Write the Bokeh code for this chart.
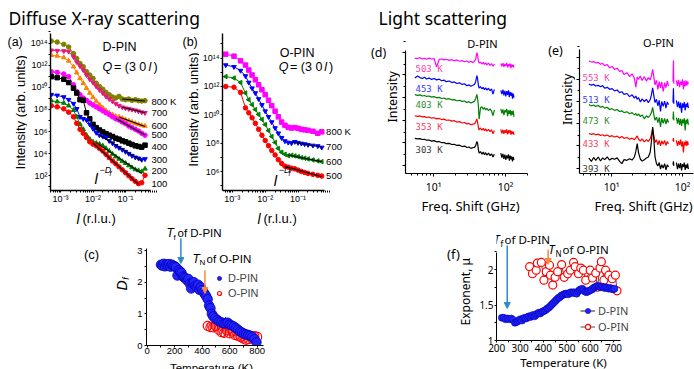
import numpy as np
from bokeh.plotting import figure
from bokeh.layouts import row, column
from bokeh.models import (Range1d, Label, Arrow, NormalHead, FixedTicker,
                          CustomJSTickFormatter, Legend, LegendItem)
from bokeh.embed import file_html
from bokeh.resources import INLINE

# ================= DATA =================
# (a) D-PIN, diffuse X-ray scattering along Q=(3 0 l): l (r.l.u.) and log10(intensity)
a_l = [0.00052, 0.00079, 0.00126, 0.00178, 0.00251, 0.00316, 0.00398, 0.00501,
       0.00631, 0.00794, 0.0100, 0.0126, 0.0158, 0.0200, 0.0251, 0.0316, 0.0398,
       0.0501, 0.0631, 0.0794, 0.100, 0.126, 0.158, 0.200, 0.251, 0.316, 0.398]
a_temps = ["800 K", "700", "600", "500", "400", "300", "200", "100"]
a_log_800 = [14.18, 14.09, 13.88, 13.64, 13.05, 12.60, 12.15, 11.86, 11.41, 11.11, 10.81, 10.37, 10.07, 9.83,
             9.54, 9.33, 9.12, 9.03, 9.18, 8.94, 8.88, 8.94, 8.82, 8.88, 8.79, 8.76, 8.79]
a_log_700 = [13.34, 13.31, 13.28, 13.23, 12.75, 12.30, 11.92, 11.56, 11.11, 10.73, 10.43, 10.07, 9.77, 9.48,
             9.18, 8.94, 8.73, 8.52, 8.34, 8.20, 8.11, 8.05, 7.99, 7.93, 7.84, 7.75, 7.69]
a_log_600 = [12.90, 12.84, 12.69, 12.39, 11.86, 11.32, 10.81, 10.37, 9.92, 9.48, 9.09, 8.73, 8.43, 8.14,
             7.90, 7.69, 7.54, 7.39, 7.33, 7.21, 7.09, 6.98, 6.86, 6.74, 6.65, 6.56, 6.50]
a_log_500 = [11.41, 11.35, 11.20, 10.96, 10.22, 9.62, 9.33, 9.03, 8.82, 8.58, 8.40, 8.23, 8.05, 7.87,
             7.69, 7.54, 7.33, 7.15, 7.04, 6.86, 6.71, 6.50, 6.35, 6.20, 6.05, 5.84, 5.67]
a_log_400 = [10.96, 10.87, 10.73, 10.43, 9.92, 9.48, 8.88, 8.82, 7.69, 7.15, 6.65, 6.35, 6.14, 5.96,
             5.81, 5.67, 5.55, 5.40, 5.31, 5.16, 5.07, 4.95, 4.83, 4.71, 4.65, 4.59, 4.77]
a_log_300 = [9.33, 9.27, 9.12, 8.88, 8.52, 8.05, 7.33, 7.15, 7.04, 6.65, 6.26, 5.90, 5.67, 5.55,
             5.46, 5.16, 4.95, 4.71, 4.54, 4.36, 4.18, 4.00, 3.82, 3.67, 3.58, 3.46, 3.52]
a_log_200 = [8.79, 8.70, 8.58, 8.34, 7.93, 7.33, 6.65, 6.20, 5.67, 5.31, 5.07, 4.95, 4.86, 4.71,
             4.48, 4.24, 3.97, 3.73, 3.52, 3.31, 3.14, 2.93, 2.75, 2.57, 2.48, 2.39, 2.63]
a_log_100 = [8.34, 8.23, 8.05, 7.75, 7.33, 6.74, 6.20, 5.84, 5.46, 5.07, 4.86, 4.71, 4.48, 4.24,
             3.94, 3.64, 3.34, 3.08, 2.81, 2.54, 2.27, 2.00, 1.74, 1.50, 1.29, 1.38, 2.04]
a_fit_idx = [(19, 26), (19, 26), (18, 26), (17, 26), (18, 25), (12, 25), (11, 25), (10, 24)]

# (b) O-PIN
b_l = [0.00063, 0.00112, 0.00178, 0.00251, 0.00316, 0.00398, 0.00501, 0.00631, 0.00794,
       0.0100, 0.0126, 0.0158, 0.0200, 0.0251, 0.0316, 0.0398, 0.0501, 0.0631, 0.0794,
       0.100, 0.126, 0.158, 0.200, 0.282, 0.398, 0.525]
b_temps = ["800 K", "700", "600", "500"]
b_log_800 = [14.28, 14.14, 13.81, 13.51, 13.16, 12.81, 12.47, 12.12, 11.77, 11.42, 11.03, 10.65, 10.26,
             9.86, 9.49, 9.26, 9.12, 9.07, 9.10, 9.05, 8.98, 8.94, 8.91, 8.84, 8.70, 8.80]
b_log_700 = [13.51, 13.39, 13.12, 12.74, 12.28, 11.88, 11.54, 11.12, 10.70, 10.26, 9.86, 9.49, 9.07,
             8.70, 8.38, 8.15, 8.05, 8.01, 8.10, 8.03, 7.98, 7.94, 7.89, 7.84, 7.80, 7.70]
b_log_600 = [12.70, 12.60, 12.28, 11.54, 11.07, 10.72, 10.37, 10.03, 9.68, 9.31, 8.89, 8.47, 8.05,
             7.63, 7.36, 7.22, 7.12, 7.15, 7.10, 7.05, 6.98, 6.94, 6.89, 6.82, 6.75, 6.70]
b_log_500 = [12.00, 11.95, 11.58, 10.49, 10.14, 9.79, 9.40, 8.98, 8.56, 8.19, 7.82, 7.49, 7.17,
             6.84, 6.57, 6.38, 6.31, 6.24, 6.19, 6.10, 6.01, 5.94, 5.87, 5.80, 5.73, 5.68]
b_fit_idx = [None, (17, 25), (16, 25), (15, 25)]

# (d) D-PIN light scattering: frequency shift (GHz) and log10(intensity), nan = gap
nan = float("nan")
d_freq = [5.5, 6, 6.5, 7, 7.5, 8, 8.7, 9.4, 10.2, 11, 12, 13, 14, 15, 16.5, 18, 19.5, 21, 23, 25,
          27, 29, 31, 33, 35, 37, 38.5, 40, 41, 42, 43, 45, 47, 49, 51, 53, 55, 58, 61, 64, 67, 70,
          nan, 86, 89, 92, 95, 98, 101, 104, 107, 110, 113, 116, 119, 122, 125, 128, 131]
d_temps = ["503 K", "453 K", "403 K", "353 K", "303 K"]
d_log_503 = [5.74, 5.72, 5.76, 5.70, 5.73, 5.69, 5.74, 5.70, 5.72, 5.35, 5.68, 5.70, 5.66, 5.69, 5.64,
             5.67, 5.62, 5.66, 5.60, 5.63, 5.58, 5.61, 5.56, 5.59, 5.55, 5.60, 5.68, 5.98, 5.85, 5.62,
             5.52, 5.56, 5.48, 5.55, 5.46, 5.53, 5.44, 5.52, 5.42, 5.50, 5.38, 5.48, nan,
             5.50, 5.38, 5.52, 5.35, 5.48, 5.40, 5.53, 5.33, 5.47, 5.38, 5.50, 5.30, 5.46, 5.36, 5.44, 5.32]
d_log_453 = [4.86, 4.95, 4.88, 4.84, 4.90, 4.82, 4.86, 4.80, 4.84, 4.78, 4.81, 4.74, 4.77, 4.70, 4.73,
             4.66, 4.69, 4.62, 4.65, 4.58, 4.61, 4.52, 4.56, 4.50, 4.54, 4.58, 4.70, 4.97, 4.82, 4.55,
             4.42, 4.48, 4.38, 4.45, 4.35, 4.43, 4.33, 4.41, 4.30, 4.38, 4.15, 4.36, nan,
             4.32, 4.15, 4.35, 4.10, 4.30, 4.05, 4.28, 4.12, 4.32, 4.02, 4.25, 4.08, 4.22, 3.95, 4.18, 4.00]
d_log_403 = [4.13, 4.10, 4.12, 4.07, 4.09, 4.05, 4.07, 4.02, 4.04, 3.99, 4.01, 3.96, 3.98, 3.93, 3.95,
             3.90, 3.91, 3.86, 3.88, 3.83, 3.85, 3.78, 3.82, 3.76, 3.80, 3.84, 3.95, 4.14, 3.95, 3.62,
             3.05, 3.55, 3.60, 3.48, 3.56, 3.45, 3.53, 3.42, 3.50, 3.40, 3.20, 3.46, nan,
             3.50, 3.30, 3.48, 3.22, 3.45, 3.35, 3.50, 3.18, 3.44, 3.28, 3.46, 3.20, 3.40, 3.25, 3.42, 3.15]
d_log_353 = [3.20, 3.17, 3.19, 3.15, 3.16, 3.12, 3.14, 3.09, 3.11, 3.06, 3.08, 3.03, 3.05, 3.00, 3.01,
             2.96, 2.98, 2.92, 2.94, 2.88, 2.90, 2.84, 2.86, 2.80, 2.83, 2.84, 2.92, 3.06, 2.90, 2.70,
             2.58, 2.66, 2.56, 2.64, 2.54, 2.62, 2.52, 2.60, 2.50, 2.58, 2.40, 2.55, nan,
             2.60, 2.42, 2.58, 2.40, 2.56, 2.45, 2.60, 2.38, 2.55, 2.44, 2.57, 2.36, 2.52, 2.40, 2.50, 2.35]
d_log_303 = [2.20, 2.18, 2.19, 2.15, 2.16, 2.12, 2.13, 2.08, 2.10, 2.05, 2.06, 2.01, 2.02, 1.97, 1.98,
             1.93, 1.94, 1.89, 1.90, 1.84, 1.86, 1.80, 1.82, 1.76, 1.79, 1.80, 1.88, 2.06, 1.98, 1.70,
             1.55, 1.62, 1.50, 1.60, 1.48, 1.57, 1.46, 1.55, 1.44, 1.52, 1.38, 1.50, nan,
             1.55, 1.35, 1.52, 1.30, 1.48, 1.25, 1.45, 1.32, 1.50, 1.22, 1.44, 1.28, 1.40, 1.18, 1.38, 1.25]

# (e) O-PIN light scattering
e_freq = [4.8, 5.2, 5.6, 6, 6.5, 7, 7.5, 8, 8.7, 9.4, 10.2, 11, 12, 13, 14, 15, 16.5, 18, 19.5, 21,
          22, 23, 24, 25.5, 27, 29, 31, 33, 35, 36.5, 38, 39.5, 41, 43, 45, 47, 49, 51, 53.5, 56,
          58.5, 61, 63.5, nan, 73.5, 74.5, 75.5, nan, 82, 85, 88, 91, 94, 97, 100, 103, 106, 109,
          112, 115, 118, 121]
e_temps = ["553 K", "513 K", "473 K", "433 K", "393 K"]
e_log_553 = [5.82, 5.78, 5.80, 5.74, 5.76, 5.68, 5.72, 5.62, 5.66, 5.52, 5.58, 5.45, 5.50, 5.36, 5.40,
             5.22, 5.30, 5.12, 5.25, 5.05, 4.65, 5.10, 5.00, 5.15, 4.95, 5.12, 4.92, 5.08, 4.98, 5.15,
             5.45, 5.10, 4.75, 4.95, 4.55, 4.90, 4.60, 4.88, 4.45, 4.85, 4.62, 4.92, 4.70, nan,
             4.90, 5.85, 4.80, nan, 4.95, 4.70, 4.98, 4.65, 4.90, 4.75, 5.00, 4.55, 4.92, 4.68,
             4.95, 4.72, 4.90, 4.78]
e_log_513 = [4.79, 4.74, 4.77, 4.70, 4.73, 4.66, 4.72, 4.60, 4.64, 4.55, 4.58, 4.48, 4.52, 4.40, 4.44,
             4.32, 4.36, 4.22, 4.30, 4.15, 4.25, 4.10, 4.18, 3.98, 4.12, 4.00, 4.10, 3.95, 4.08, 4.30,
             4.62, 4.25, 3.95, 4.10, 3.80, 4.05, 3.55, 4.00, 3.78, 4.02, 3.70, 3.98, 3.85, nan,
             3.95, 4.60, 3.90, nan, 4.05, 3.75, 4.00, 3.70, 3.95, 3.50, 3.92, 3.72, 3.98, 3.60,
             3.90, 3.75, 3.95, 3.70]
e_log_473 = [3.87, 3.80, 3.84, 3.78, 3.82, 3.74, 3.78, 3.70, 3.74, 3.64, 3.68, 3.60, 3.64, 3.55, 3.58,
             3.50, 3.54, 3.45, 3.50, 3.40, 3.46, 3.36, 3.44, 3.32, 3.40, 3.22, 3.36, 3.28, 3.38, 3.50,
             3.74, 3.40, 3.15, 3.30, 3.05, 3.28, 2.85, 3.25, 3.02, 3.24, 2.98, 3.22, 3.05, nan,
             3.20, 3.55, 3.15, nan, 3.28, 3.00, 3.25, 2.95, 3.22, 2.90, 3.20, 3.02, 3.24, 2.70,
             3.18, 3.00, 3.22, 2.95]
e_log_433 = [2.56, 2.52, 2.55, 2.50, 2.53, 2.47, 2.50, 2.45, 2.49, 2.42, 2.46, 2.40, 2.44, 2.36, 2.42,
             2.34, 2.38, 2.30, 2.35, 2.28, 2.36, 2.45, 2.30, 2.22, 2.32, 2.18, 2.28, 2.20, 2.32, 2.50,
             2.78, 2.45, 2.15, 2.28, 2.05, 2.25, 2.00, 2.22, 2.08, 2.25, 2.02, 2.20, 2.10, nan,
             2.22, 2.35, 2.18, nan, 2.25, 2.00, 2.22, 2.05, 2.28, 1.98, 2.20, 1.70, 2.18, 2.02,
             2.24, 2.00, 2.20, 2.05]
e_log_393 = [1.45, 1.30, 1.48, 1.35, 1.50, 1.32, 1.46, 1.38, 1.50, 1.36, 1.44, 1.40, 1.46, 1.30, 1.20,
             1.38, 1.35, 1.42, 1.36, 1.50, 1.75, 2.10, 1.70, 1.40, 1.32, 1.38, 1.45, 1.50, 1.70, 2.20,
             2.85, 2.30, 1.50, 1.20, 1.10, 1.25, 0.95, 1.15, 1.00, 1.20, 0.92, 1.15, 1.05, nan,
             1.15, 1.30, 1.10, nan, 1.25, 0.95, 1.20, 1.00, 1.22, 0.90, 1.18, 1.05, 1.25, 0.92,
             1.15, 1.00, 1.20, 0.95]

# (c) fractal dimension D_f vs temperature
c_T_d = [100, 110, 120, 130, 140, 150, 160, 170, 180, 190, 200, 210, 220, 230, 240, 250, 260, 270, 280,
         290, 300, 310, 320, 330, 340, 350, 360, 370, 380, 390, 400, 410, 420, 430, 440, 450, 460, 470,
         480, 495, 510, 525, 540, 555, 570, 585, 600, 615, 630, 645, 660, 675, 690, 705, 720, 735, 750,
         765, 780, 795]
c_Df_d = [2.55, 2.52, 2.58, 2.50, 2.56, 2.53, 2.57, 2.49, 2.55, 2.51, 2.50, 2.47, 2.21, 2.38, 2.33, 2.29,
          2.18, 2.15, 2.12, 2.06, 2.10, 1.95, 1.80, 1.97, 2.00, 1.88, 1.84, 1.92, 1.76, 1.84, 1.75, 1.68,
          1.62, 1.55, 1.46, 1.26, 1.18, 1.00, 0.92, 0.86, 0.80, 0.76, 0.73, 0.70, 0.70, 0.72, 0.66, 0.63,
          0.60, 0.55, 0.50, 0.44, 0.41, 0.37, 0.35, 0.33, 0.31, 0.27, 0.20, 0.10]
c_err_d = [0.06, 0.05, 0.08, 0.10, 0.12, 0.08, 0.06, 0.10, 0.05, 0.06, 0.05, 0.08, 0.06, 0.05, 0.06,
           0.04, 0.05, 0.06, 0.05, 0.04, 0.05, 0.06, 0.05, 0.04, 0.06, 0.05, 0.04, 0.05, 0.06, 0.05,
           0.04, 0.05, 0.04, 0.05, 0.04, 0.05, 0.04, 0.05, 0.06, 0.08, 0.06, 0.10, 0.15, 0.12, 0.20,
           0.08, 0.06, 0.08, 0.10, 0.06, 0.05, 0.08, 0.06, 0.10, 0.12, 0.15, 0.10, 0.08, 0.06, 0.05]
c_T_o = [440, 460, 480, 500, 520, 540, 560, 580, 600, 620, 640, 660, 680, 700, 720, 740, 760, 780, 800]
c_Df_o = [0.62, 0.58, 0.57, 0.62, 0.50, 0.42, 0.40, 0.48, 0.38, 0.44, 0.33, 0.30, 0.26, 0.22, 0.18,
          0.20, 0.24, 0.30, 0.27]
c_err_o = [0.08, 0.10, 0.09, 0.12, 0.10, 0.12, 0.15, 0.10, 0.14, 0.12, 0.10, 0.12, 0.14, 0.10, 0.12,
           0.15, 0.12, 0.10, 0.12]

# (f) exponent mu vs temperature
f_T_d = [222, 230, 238, 246, 254, 262, 270, 278, 284, 290, 296, 302, 308, 314, 320, 326, 332, 338, 344,
         350, 356, 362, 368, 374, 380, 386, 392, 398, 404, 410, 416, 422, 428, 434, 440, 446, 452, 458,
         464, 470, 476, 482, 488, 494, 500, 506, 512, 518, 524, 530, 536, 542, 548, 554, 560, 566, 572,
         578, 584, 590, 596, 602, 608, 614, 620, 626, 632, 638, 644, 650, 656, 662, 668, 674, 680, 686,
         692, 698, 704]
f_mu_d = [1.32, 1.32, 1.30, 1.31, 1.30, 1.31, 1.29, 1.25, 1.26, 1.27, 1.29, 1.30, 1.28, 1.31, 1.32, 1.31,
          1.33, 1.34, 1.33, 1.35, 1.36, 1.34, 1.36, 1.38, 1.39, 1.38, 1.40, 1.41, 1.42, 1.43, 1.45, 1.46,
          1.48, 1.50, 1.52, 1.54, 1.56, 1.58, 1.60, 1.61, 1.63, 1.64, 1.65, 1.66, 1.66, 1.65, 1.67, 1.68,
          1.67, 1.68, 1.67, 1.66, 1.69, 1.71, 1.72, 1.73, 1.71, 1.69, 1.68, 1.69, 1.70, 1.71, 1.72, 1.74,
          1.75, 1.76, 1.77, 1.76, 1.75, 1.76, 1.75, 1.74, 1.75, 1.74, 1.73, 1.74, 1.73, 1.72, 1.73]
f_T_o = [341, 353, 369, 374, 391, 402, 412, 426, 430, 440, 450, 461, 478, 489, 504, 515, 529, 536, 550,
         560, 571, 581, 600, 610, 624, 631, 642, 648, 659, 666, 680, 694, 708, 715]
f_mu_o = [2.04, 1.94, 1.99, 2.09, 2.10, 1.85, 1.97, 2.06, 1.92, 1.78, 1.89, 1.97, 2.07, 1.89, 1.94, 1.99,
          2.10, 2.04, 1.94, 2.02, 1.99, 1.85, 1.99, 1.88, 1.95, 1.75, 2.02, 2.11, 1.85, 1.99, 1.92, 1.87,
          1.92, 1.70]

T_f = 245   # freezing temperature of D-PIN (K)
T_N = 420   # Neel temperature of O-PIN (K)

# ================= HELPERS =================
LS = "Liberation Sans"
NS = "Noto Sans"
MONO = "DejaVu Sans Mono"

SUP_JS = """
const e = Math.round(Math.log10(tick));
const m = {"0":"\u2070","1":"\u00b9","2":"\u00b2","3":"\u00b3","4":"\u2074","5":"\u2075",
           "6":"\u2076","7":"\u2077","8":"\u2078","9":"\u2079","-":"\u207b"};
let s = "";
for (const c of String(e)) { s += m[c]; }
return "10" + s;
"""


def pow_fmt():
    return CustomJSTickFormatter(code=SUP_JS)


class Geo:
    """canvas box (page px), frame box (page px), data ranges at the frame edges."""
    def __init__(self, cx, cy, cw, ch, fl, ft, fr, fb, xr, yr, xlog=False, ylog=False):
        self.cx, self.cy, self.cw, self.ch = cx, cy, cw, ch
        self.fl, self.ft, self.fr, self.fb = fl, ft, fr, fb
        self.xr, self.yr, self.xlog, self.ylog = xr, yr, xlog, ylog

    def X(self, px):
        t = (px - self.fl) / (self.fr - self.fl)
        if self.xlog:
            a, b = np.log10(self.xr[0]), np.log10(self.xr[1])
            return float(10 ** (a + t * (b - a)))
        return self.xr[0] + t * (self.xr[1] - self.xr[0])

    def Y(self, py):
        t = (self.fb - py) / (self.fb - self.ft)
        if self.ylog:
            a, b = np.log10(self.yr[0]), np.log10(self.yr[1])
            return float(10 ** (a + t * (b - a)))
        return self.yr[0] + t * (self.yr[1] - self.yr[0])

    def fig(self, axes=True):
        kw = {}
        if not axes:
            kw = dict(x_axis_location=None, y_axis_location=None)
        p = figure(width=self.cw, height=self.ch, title=None,
                   x_range=Range1d(*self.xr), y_range=Range1d(*self.yr),
                   x_axis_type="log" if self.xlog else "linear",
                   y_axis_type="log" if self.ylog else "linear",
                   output_backend="svg", toolbar_location=None,
                   min_border_left=self.fl - self.cx,
                   min_border_right=self.cx + self.cw - self.fr,
                   min_border_top=self.ft - self.cy,
                   min_border_bottom=self.cy + self.ch - self.fb, **kw)
        p.outline_line_color = None
        p.grid.visible = False
        p.background_fill_color = "white"
        p.border_fill_color = "white"
        return p


def strip(x0, y0, w, h):
    g = Geo(x0, y0, w, h, x0, y0, x0 + w, y0 + h, (x0, x0 + w), (y0 + h, y0))
    return g, g.fig(axes=False)


def txt(p, g, px, py, s, size, font, color="black", style="normal", align="left",
        baseline="middle", angle=0.0):
    p.add_layout(Label(x=g.X(px), y=g.Y(py), text=s, text_font=font,
                       text_font_size=f"{size}px", text_font_style=style, text_color=color,
                       text_align=align, text_baseline=baseline, angle=angle))


def style_axes(p, font, size, lw=1.0, tick_out=3, tick_in=0, minor_out=2, minor_in=0,
               standoff=2):
    for ax in (p.xaxis[0], p.yaxis[0]):
        ax.axis_line_width = lw
        ax.axis_line_color = "black"
        ax.major_tick_line_color = "black"
        ax.minor_tick_line_color = "black"
        ax.major_tick_out = tick_out
        ax.major_tick_in = tick_in
        ax.minor_tick_out = minor_out
        ax.minor_tick_in = minor_in
        ax.major_label_text_font = font
        ax.major_label_text_font_size = f"{size}px"
        ax.major_label_standoff = standoff
        ax.major_label_text_color = "black"


def log_minor(decades):
    return [k * 10.0 ** e for e in decades for k in range(2, 10)]


# ================= TITLE ROW =================
gT, pT = strip(0, 0, 694, 30)
txt(pT, gT, 8, 17, "Diffuse X-ray scattering", 17.5, NS)
txt(pT, gT, 378, 17, "Light scattering", 17.5, NS)

# ================= (a) =================
gA = Geo(27, 30, 153, 176, 50, 30, 180, 192,
         (10 ** -3.308, 10 ** 0.692), (10 ** 0.670, 10 ** 15.134), True, True)
pA = gA.fig()
style_axes(pA, LS, 9, lw=1.4, tick_out=2, standoff=1)
pA.xaxis.ticker = FixedTicker(ticks=[1e-3, 1e-2, 1e-1], minor_ticks=log_minor([-4, -3, -2, -1]))
pA.yaxis.ticker = FixedTicker(ticks=[10.0 ** e for e in range(2, 15, 2)],
                              minor_ticks=[10.0 ** e for e in range(1, 16, 2)])
pA.xaxis.formatter = pow_fmt()
pA.yaxis.formatter = pow_fmt()
pA.xaxis.bounds = (gA.X(50), gA.X(150))
pA.yaxis.bounds = (gA.Y(192), gA.Y(33))

a_series = [(a_log_800, "#808000", "circle", 0), (a_log_700, "#e8177e", "inverted_triangle", 0),
            (a_log_600, "#ff8000", "triangle", 0), (a_log_500, "#ff00ff", "circle", 0),
            (a_log_400, "#000000", "square", 0), (a_log_300, "#0000ff", "inverted_triangle", 0),
            (a_log_200, "#008000", "triangle", 0), (a_log_100, "#ff0000", "circle", 0)]
for (vals, col, mk, ang), lab, fit in zip(a_series, a_temps, a_fit_idx):
    y = 10 ** np.array(vals)
    pA.line(a_l, y, line_color=col, line_width=1)
    pA.scatter(a_l, y, marker=mk, size=4.5, fill_color=col, line_color=col, angle=ang)
    i0, i1 = fit
    lx = np.log10(np.array(a_l[i0:i1 + 1]))
    k, b0 = np.polyfit(lx, np.array(vals[i0:i1 + 1]), 1)
    xs = [a_l[i0], a_l[i1]]
    pA.line(xs, [10 ** (k * np.log10(v) + b0) for v in xs], line_color="black", line_width=1.1)
    pA.add_layout(Label(x=gA.X(151), y=float(10 ** min(vals[-3:])), text=lab, text_font=LS,
                        text_font_size="9.5px", text_baseline="middle", text_color="black"))

txt(pA, gA, 102, 47, "D-PIN", 12.5, LS)
txt(pA, gA, 102, 67, "Q", 12.5, LS, style="italic")
txt(pA, gA, 113.5, 67, "= (3 0", 12.5, LS)
txt(pA, gA, 148, 67, "l", 12.5, LS, style="italic")
txt(pA, gA, 153, 67, ")", 12.5, LS)
txt(pA, gA, 94, 180, "l", 15, LS, style="italic")
txt(pA, gA, 99, 171, "\u2212D", 9, LS, style="italic")
txt(pA, gA, 109, 175, "f", 7, LS, style="italic")

gsA, psA = strip(0, 30, 27, 176)
txt(psA, gsA, 7, 43, "(a)", 12.5, LS)
txt(psA, gsA, 19.5, 120, "Intensity (arb. units)", 13, LS, align="center", angle=np.pi / 2)

# ================= (b) =================
gB = Geo(199, 30, 171, 176, 220, 30, 370, 192,
         (10 ** -3.300, 10 ** 1.204), (10 ** 4.662, 10 ** 15.951), True, True)
pB = gB.fig()
style_axes(pB, LS, 9, lw=1.4, tick_out=2, standoff=1)
pB.xaxis.ticker = FixedTicker(ticks=[1e-3, 1e-2, 1e-1], minor_ticks=log_minor([-4, -3, -2, -1]))
pB.yaxis.ticker = FixedTicker(ticks=[10.0 ** e for e in range(6, 15, 2)],
                              minor_ticks=[10.0 ** e for e in range(5, 16, 2)])
pB.xaxis.formatter = pow_fmt()
pB.yaxis.formatter = pow_fmt()
pB.xaxis.bounds = (gB.X(220), gB.X(323))
pB.yaxis.bounds = (gB.Y(192), gB.Y(33))
b_series = [(b_log_800, "#ff00ff", "square", 0), (b_log_700, "#0000ff", "inverted_triangle", 0),
            (b_log_600, "#008000", "triangle", np.pi / 2), (b_log_500, "#ff0000", "circle", 0)]
for (vals, col, mk, ang), lab, fit in zip(b_series, b_temps, b_fit_idx):
    y = 10 ** np.array(vals)
    pB.line(b_l, y, line_color=col, line_width=1)
    pB.scatter(b_l, y, marker=mk, size=4.5, fill_color=col, line_color=col, angle=ang)
    if fit is not None:
        i0, i1 = fit
        lx = np.log10(np.array(b_l[i0:i1 + 1]))
        k, b0 = np.polyfit(lx, np.array(vals[i0:i1 + 1]), 1)
        xs = [b_l[i0], b_l[i1]]
        pB.line(xs, [10 ** (k * np.log10(v) + b0) for v in xs], line_color="black", line_width=1.1)
    pB.add_layout(Label(x=gB.X(325), y=float(10 ** vals[-1]), text=lab, text_font=LS,
                        text_font_size="9.5px", text_baseline="middle", text_color="black"))

txt(pB, gB, 278, 53, "O-PIN", 12.5, LS)
txt(pB, gB, 277, 67, "Q", 12.5, LS, style="italic")
txt(pB, gB, 288.5, 67, "= (3 0", 12.5, LS)
txt(pB, gB, 323, 67, "l", 12.5, LS, style="italic")
txt(pB, gB, 328, 67, ")", 12.5, LS)
txt(pB, gB, 272, 182, "l", 15, LS, style="italic")
txt(pB, gB, 277, 171, "\u2212D", 9, LS, style="italic")
txt(pB, gB, 287, 175, "f", 7, LS, style="italic")

gsB, psB = strip(180, 30, 19, 176)
txt(psB, gsB, 182, 43, "(b)", 12.5, LS)
txt(psB, gsB, 192.5, 117, "Intensity (arb. units)", 13, LS, align="center", angle=np.pi / 2)

# x-label strip under (a) and (b)
gxAB, pxAB = strip(0, 206, 370, 20)
txt(pxAB, gxAB, 76, 218, "l", 14, LS, style="italic")
txt(pxAB, gxAB, 82, 218, "(r.l.u.)", 13, LS)
txt(pxAB, gxAB, 257, 218, "l", 14, LS, style="italic")
txt(pxAB, gxAB, 263, 218, "(r.l.u.)", 13, LS)

# ================= (d) =================
spec_cols = ["#ff00ff", "#0000ff", "#008000", "#ff0000", "#000000"]
lab_cols = ["#ff3fa8", "#3a3aff", "#2f8f2f", "#ff4060", "#3a3a3a"]

gD = Geo(400, 30, 130, 166, 405, 30, 530, 175,
         (10 ** 0.611, 10 ** 2.347), (10 ** 0.652, 10 ** 6.957), True, True)
pD = gD.fig()
style_axes(pD, NS, 10.5, lw=1.2, tick_out=3, standoff=3, minor_out=2)
pD.xaxis.ticker = FixedTicker(ticks=[10, 100], minor_ticks=log_minor([0, 1, 2]))
pD.yaxis.ticker = FixedTicker(ticks=[10.0 ** e for e in range(1, 7)],
                              minor_ticks=[3 * 10.0 ** e for e in range(0, 7)])
pD.xaxis.formatter = pow_fmt()
pD.yaxis.formatter = CustomJSTickFormatter(code="return '';")
pD.xaxis.bounds = (gD.X(405), gD.X(527))
pD.yaxis.bounds = (gD.Y(175), gD.Y(50))
d_label_py = [69, 89, 106, 128, 151]
for vals, col, lc, lab, py in zip([d_log_503, d_log_453, d_log_403, d_log_353, d_log_303],
                                  spec_cols, lab_cols, d_temps, d_label_py):
    pD.line(d_freq, 10 ** np.array(vals), line_color=col, line_width=1.2)
    txt(pD, gD, 415, py, lab, 9, MONO, color=lc)
txt(pD, gD, 482, 43, "D-PIN", 11, NS, align="center")

gsD, psD = strip(370, 30, 30, 166)
txt(psD, gsD, 370.5, 55, "(d)", 12.5, NS)
txt(psD, gsD, 392, 107, "Intensity", 12.5, NS, align="center", angle=np.pi / 2)

# ================= (e) =================
gE = Geo(575, 30, 119, 166, 579, 30, 694, 175,
         (10 ** 0.549, 10 ** 2.169), (10 ** 0.756, 10 ** 7.2), True, True)
pE = gE.fig()
style_axes(pE, NS, 10.5, lw=1.2, tick_out=3, standoff=3, minor_out=2)
pE.xaxis.ticker = FixedTicker(ticks=[10, 100], minor_ticks=log_minor([0, 1, 2]))
pE.yaxis.ticker = FixedTicker(ticks=[10.0 ** e for e in range(1, 7)],
                              minor_ticks=[3 * 10.0 ** e for e in range(0, 7)])
pE.xaxis.formatter = pow_fmt()
pE.yaxis.formatter = CustomJSTickFormatter(code="return '';")
pE.xaxis.bounds = (gE.X(579), gE.X(693))
pE.yaxis.bounds = (gE.Y(175), gE.Y(49))
e_label_py = [78, 100, 122, 145, 170]
for vals, col, lc, lab, py in zip([e_log_553, e_log_513, e_log_473, e_log_433, e_log_393],
                                  spec_cols, lab_cols, e_temps, e_label_py):
    pE.line(e_freq, 10 ** np.array(vals), line_color=col, line_width=1.2)
    txt(pE, gE, 582, py, lab, 9, MONO, color=lc)
txt(pE, gE, 658, 42, "O-PIN", 11, NS, align="center")

gsE, psE = strip(530, 30, 45, 166)
txt(psE, gsE, 555, 53, "(e)", 12.5, NS, align="center")
txt(psE, gsE, 567, 110, "Intensity", 12.5, NS, align="center", angle=np.pi / 2)

gxDE, pxDE = strip(370, 196, 324, 26)
txt(pxDE, gxDE, 470, 205, "Freq. Shift (GHz)", 13, NS, align="center")
txt(pxDE, gxDE, 643, 205, "Freq. Shift (GHz)", 13, NS, align="center")

# ================= (c) =================
BLUE_F, BLUE_L = "#2424ff", "#0000b4"
gC = Geo(131, 226, 239, 133, 146, 226, 263, 345, (-5.1, 846.0), (0.0, 3.758))
pC = gC.fig()
style_axes(pC, LS, 9.5, lw=1.0, tick_out=2, standoff=0, minor_out=2)
pC.xaxis.ticker = FixedTicker(ticks=[0, 200, 400, 600, 800], minor_ticks=[100, 300, 500, 700])
pC.yaxis.ticker = FixedTicker(ticks=[0, 1, 2, 3], minor_ticks=[0.5, 1.5, 2.5])
pC.yaxis.major_label_standoff = 2
pC.yaxis.bounds = (0.0, gC.Y(248))
cd = np.array(c_Df_d); ce = np.array(c_err_d)
co = np.array(c_Df_o); ceo = np.array(c_err_o)
pC.segment(c_T_o, co - ceo, c_T_o, co + ceo, line_color="#ff2020", line_width=1)
pC.segment(c_T_d, cd - ce, c_T_d, cd + ce, line_color="#2020ff", line_width=1)
r_co = pC.scatter(c_T_o, c_Df_o, marker="circle", size=9, fill_color="white", fill_alpha=0.0,
                  line_color="#ff0000", line_width=1.2)
r_cd = pC.scatter(c_T_d, c_Df_d, marker="circle", size=9.5, fill_color=BLUE_F, line_color=BLUE_L,
                  line_width=0.8)
legC = Legend(items=[LegendItem(label="D-PIN", renderers=[r_cd]),
                     LegendItem(label="O-PIN", renderers=[r_co])],
              location=(68, 45), padding=0, margin=0, spacing=1, glyph_width=10, glyph_height=14,
              label_height=14, label_standoff=4, label_text_font=LS, label_text_font_size="11px",
              border_line_color=None, background_fill_alpha=0)
pC.add_layout(legC)
pC.add_layout(Arrow(end=NormalHead(size=6, fill_color="#2e8bc9", line_color="#2e8bc9"),
                    x_start=T_f, y_start=gC.Y(238), x_end=T_f, y_end=gC.Y(263),
                    line_color="#2e8bc9", line_width=1.5))
pC.add_layout(Arrow(end=NormalHead(size=6, fill_color="#f58a3c", line_color="#f58a3c"),
                    x_start=T_N, y_start=gC.Y(270), x_end=T_N, y_end=gC.Y(293),
                    line_color="#f58a3c", line_width=1.5))
txt(pC, gC, 166, 232.5, "T", 12, LS, style="italic")
txt(pC, gC, 173, 236.5, "f", 8, LS)
txt(pC, gC, 177, 232.5, "of D-PIN", 11.5, LS)
txt(pC, gC, 192, 258, "T", 12, LS, style="italic")
txt(pC, gC, 199, 262, "N", 8, LS)
txt(pC, gC, 206, 258, "of O-PIN", 11.5, LS)

gsC, psC = strip(0, 226, 131, 133)
txt(psC, gsC, 91, 257, "(c)", 13, LS, align="center")
txt(psC, gsC, 121, 292, "D", 14, LS, style="italic", align="center", angle=np.pi / 2)
txt(psC, gsC, 125, 284, "f", 9, LS, style="italic", align="center", angle=np.pi / 2)

# the reference crops this axis title at the bottom edge of the figure
gxC, pxC = strip(0, 359, 370, 10)
txt(pxC, gxC, 211, 365, "Temperature (K)", 11.5, LS, align="center")

# ================= (f) =================
gF = Geo(474, 222, 220, 133, 496, 222, 694, 340, (199.1, 1046.7), (1.0, 2.662))
pF = gF.fig()
style_axes(pF, NS, 10, lw=1.0, tick_out=2, standoff=1, minor_out=2)
pF.xaxis.ticker = FixedTicker(ticks=[200, 300, 400, 500, 600, 700],
                              minor_ticks=[250, 350, 450, 550, 650])
pF.yaxis.ticker = FixedTicker(ticks=[1.0, 1.5, 2.0], minor_ticks=[1.25, 1.75, 2.25])
pF.xaxis.bounds = (gF.X(496), gF.X(620))
pF.yaxis.bounds = (1.0, gF.Y(252))
l_fo = pF.line(f_T_o, f_mu_o, line_color="#222222", line_width=0.8)
r_fo = pF.scatter(f_T_o, f_mu_o, marker="circle", size=8, fill_color="white", line_color="#ff0000",
                  line_width=1.2)
l_fd = pF.line(f_T_d, f_mu_d, line_color="#222222", line_width=1)
r_fd = pF.scatter(f_T_d, f_mu_d, marker="circle", size=7, fill_color=BLUE_F, line_color=BLUE_L,
                  line_width=0.6)
legF = Legend(items=[LegendItem(label="D-PIN", renderers=[l_fd, r_fd]),
                     LegendItem(label="O-PIN", renderers=[l_fo, r_fo])],
              location=(84, 6), padding=0, margin=0, spacing=1, glyph_width=15, glyph_height=13,
              label_height=13, label_standoff=3, label_text_font=NS, label_text_font_size="11px",
              border_line_color=None, background_fill_alpha=0)
pF.add_layout(legF)
pF.add_layout(Arrow(end=NormalHead(size=6, fill_color="#2e8bc9", line_color="#2e8bc9"),
                    x_start=T_f, y_start=gF.Y(245), x_end=T_f, y_end=gF.Y(308),
                    line_color="#2e8bc9", line_width=1.5))
pF.add_layout(Arrow(end=NormalHead(size=6, fill_color="#f58a3c", line_color="#f58a3c"),
                    x_start=T_N, y_start=gF.Y(249), x_end=T_N, y_end=gF.Y(264),
                    line_color="#f58a3c", line_width=1.5))
txt(pF, gF, 493, 239, "T", 12, NS, style="italic")
txt(pF, gF, 500, 243, "f", 8, NS)
txt(pF, gF, 504, 239, "of D-PIN", 11.5, NS)
txt(pF, gF, 548, 249, "T", 12, NS, style="italic")
txt(pF, gF, 555, 253, "N", 8, NS)
txt(pF, gF, 562, 249, "of O-PIN", 11.5, NS)

gsF, psF = strip(370, 222, 104, 133)
txt(psF, gsF, 453, 258, "(f)", 13, NS, align="center")
txt(psF, gsF, 465, 300, "Exponent, \u03bc", 12, NS, align="center", angle=np.pi / 2)

gxF, pxF = strip(370, 355, 324, 14)
txt(pxF, gxF, 563, 362, "Temperature (K)", 11.5, NS, align="center")

# ================= LAYOUT =================
left = column(row(psA, pA, psB, pB, spacing=0), pxAB, row(psC, pC, spacing=0), pxC, spacing=0)
right = column(row(psD, pD, psE, pE, spacing=0), pxDE, row(psF, pF, spacing=0), pxF, spacing=0)
page = column(pT, row(left, right, spacing=0), spacing=0)

open("out.html", "w").write(file_html(page, INLINE))
